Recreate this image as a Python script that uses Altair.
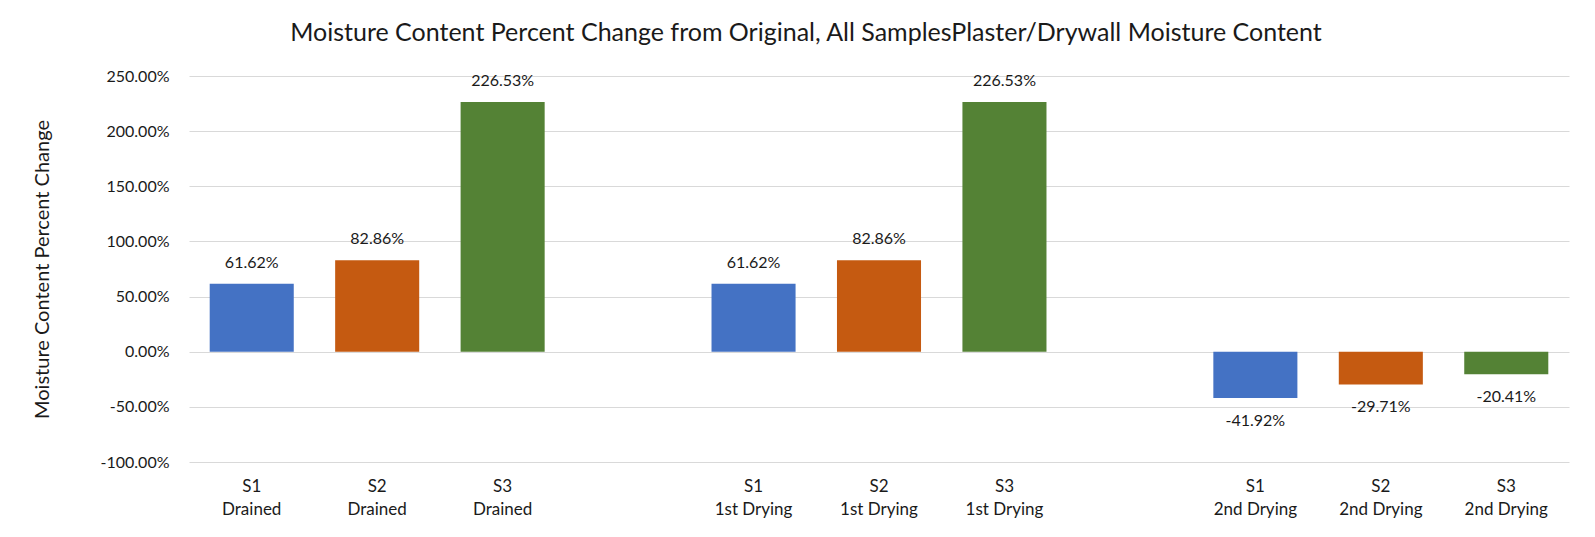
import altair as alt
import pandas as pd

samples = ["S1", "S2", "S3"]
stages = ["Drained", "1st Drying", "2nd Drying"]
drained = [0.6162, 0.8286, 2.2653]
first_drying = [0.6162, 0.8286, 2.2653]
second_drying = [-0.4192, -0.2971, -0.2041]
colors = ["#4472C4", "#C55A11", "#548235"]
y_ticks = [-1.0, -0.5, 0.0, 0.5, 1.0, 1.5, 2.0, 2.5]

series = [drained, first_drying, second_drying]
rows = []
domain = []
for gi, (stage, vals) in enumerate(zip(stages, series)):
    for s, v in zip(samples, vals):
        key = f"{s}\n{stage}"
        rows.append({"key": key, "sample": s, "value": v})
        domain.append(key)
    if gi < len(stages) - 1:
        domain.append(" " * (gi + 1))
df = pd.DataFrame(rows)

FONT = "Lato"
TXT = "#1a1a1a"

x = alt.X(
    "key:N",
    scale=alt.Scale(domain=domain, paddingInner=0.33, paddingOuter=0.165),
    sort=None,
    axis=alt.Axis(
        title=None, labelAngle=0, ticks=False, domain=False, grid=False,
        labelExpr="split(datum.label, '\\n')", labelFont=FONT, labelFontSize=17,
        labelColor=TXT, labelLineHeight=23, labelPadding=16, labelBaseline="top",
    ),
)
y = alt.Y(
    "value:Q",
    scale=alt.Scale(domain=[-1.0, 2.5], nice=False),
    axis=alt.Axis(
        values=y_ticks, title="Moisture Content Percent Change",
        labelExpr="replace(format(datum.value, '.2%'), '\u2212', '-')",
        ticks=False, domain=False, grid=True, gridColor="#D9D9D9", gridWidth=1,
        labelFont=FONT, labelFontSize=16, labelColor=TXT, labelPadding=20,
        titleFont=FONT, titleFontSize=20, titleFontWeight="normal", titleColor=TXT,
        titleX=-147, titleY=193, titleAngle=-90, titleBaseline="middle", titleAlign="center",
    ),
)
color = alt.Color("sample:N", scale=alt.Scale(domain=samples, range=colors), legend=None)

base = alt.Chart(df).transform_calculate(
    label="replace(format(datum.value, '.2%'), '\u2212', '-')"
)
bars = base.mark_bar().encode(x=x, y=y, color=color)
pos_text = base.transform_filter("datum.value >= 0").mark_text(
    font=FONT, fontSize=16, color=TXT, dy=-21, baseline="middle"
).encode(x=x, y=y, text="label:N")
neg_text = base.transform_filter("datum.value < 0").mark_text(
    font=FONT, fontSize=16, color=TXT, dy=23, baseline="middle"
).encode(x=x, y=y, text="label:N")

chart = (
    alt.layer(bars, pos_text, neg_text)
    .properties(
        width=1380, height=386,
        autosize=alt.AutoSizeParams(type="none"),
        padding={"left": 181, "top": 68, "right": 18, "bottom": 67},
        title=alt.TitleParams(
            "Moisture Content Percent Change from Original, All SamplesPlaster/Drywall Moisture Content",
            font=FONT, fontSize=25, fontWeight="normal", color=TXT,
            anchor="middle", dx=-73, baseline="middle", offset=10,
        ),
    )
    .configure(background="white")
    .configure_view(stroke=None)
)

chart.save("out.html", embed_options={"renderer": "svg", "actions": False})
